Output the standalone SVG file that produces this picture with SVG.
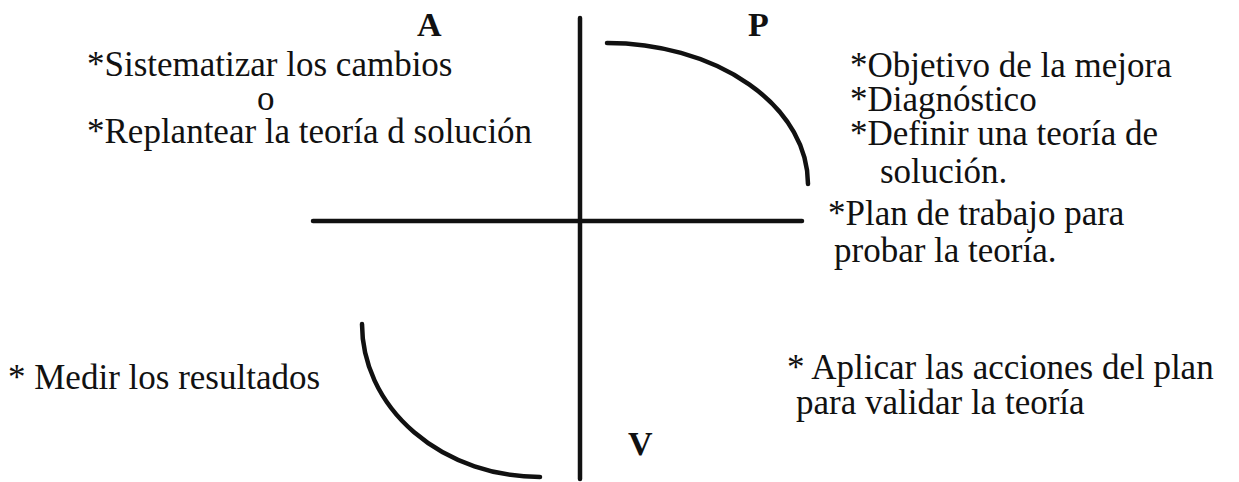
<svg xmlns="http://www.w3.org/2000/svg" width="1239" height="482" viewBox="0 0 1239 482">
<style>
text{font-family:"Liberation Serif","Times New Roman",serif;font-size:35px;fill:#111}
.h{font-weight:bold;font-size:34px}
.ln{stroke:#111;stroke-width:4.5;fill:none;stroke-linecap:round}
</style>
<rect width="1239" height="482" fill="#fff"/>
<g id="connectors">
<line class="ln" x1="580" y1="18" x2="580" y2="479"/>
<line class="ln" x1="313" y1="221" x2="802" y2="221"/>
<path class="ln" d="M607,43 A201,141 0 0 1 808,184"/>
<path class="ln" d="M362,324 A178,153 0 0 0 540,477"/>
</g>
<g id="A"><text class="h" x="417" y="36">A</text></g>
<g id="P"><text class="h" x="748" y="36">P</text></g>
<g id="V"><text class="h" x="628" y="455">V</text></g>
<g id="act">
<text x="87" y="76">*Sistematizar los cambios</text>
<text x="257" y="110">o</text>
<text x="87" y="143">*Replantear la teoría d solución</text>
</g>
<g id="plan">
<text x="850" y="77">*Objetivo de la mejora</text>
<text x="850" y="111">*Diagnóstico</text>
<text x="850" y="145">*Definir una teoría de</text>
<text x="880" y="183">solución.</text>
<text x="828" y="225">*Plan de trabajo para</text>
<text x="834" y="262">probar la teoría.</text>
</g>
<g id="measure"><text x="8" y="389">* Medir los resultados</text></g>
<g id="verify">
<text x="787" y="379">* Aplicar las acciones del plan</text>
<text x="796" y="414">para validar la teoría</text>
</g>
</svg>
